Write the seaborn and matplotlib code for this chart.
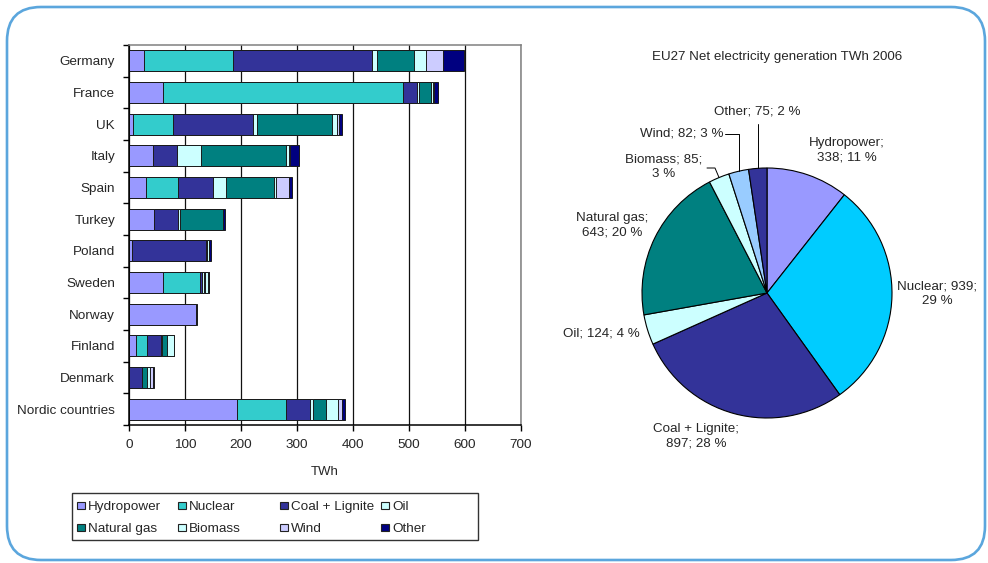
import numpy as np
import matplotlib
matplotlib.use("Agg")
import matplotlib.pyplot as plt
from matplotlib.patches import FancyBboxPatch, Rectangle
import seaborn as sns

# ---- data -------------------------------------------------------------
countries = ["Germany", "France", "UK", "Italy", "Spain", "Turkey", "Poland",
             "Sweden", "Norway", "Finland", "Denmark", "Nordic countries"]

fuels = ["Hydropower", "Nuclear", "Coal + Lignite", "Oil",
         "Natural gas", "Biomass", "Wind", "Other"]

hydropower = [26, 61, 8, 42, 30, 45, 5, 61, 120, 12, 0, 192]
nuclear    = [159, 429, 70, 0, 58, 0, 0, 66, 0, 21, 0, 88]
coal       = [249, 24, 144, 44, 62, 43, 133, 3, 0, 24, 23, 44]
oil        = [9, 4, 6, 43, 23, 3, 1, 4, 0, 2, 1, 5]
gas        = [66, 22, 135, 151, 86, 76, 1, 1, 0, 9, 9, 22]
biomass    = [21, 3, 8, 5, 4, 0, 2, 6, 0, 12, 4, 23]
wind       = [30, 2, 4, 3, 22, 0, 0, 1, 0, 0, 6, 7]
other      = [39, 6, 6, 15, 6, 4, 5, 0, 2, 0, 1, 5]

eu27_values = [338, 939, 897, 124, 643, 85, 82, 75]
eu27_pct = [11, 29, 28, 4, 20, 3, 3, 2]

x_ticks = [0, 100, 200, 300, 400, 500, 600, 700]

bar_colors = ["#9999FF", "#33CCCC", "#333399", "#CCFFFF",
              "#008080", "#CCFFFF", "#CCCCFF", "#000080"]
pie_colors = ["#9999FF", "#00CCFF", "#333399", "#CCFFFF",
              "#008080", "#CCFFFF", "#99CCFF", "#333399"]

# ---- style ------------------------------------------------------------
sns.set_theme(style="white")
plt.rcParams["font.family"] = ["Liberation Sans", "DejaVu Sans"]
plt.rcParams["font.size"] = 9.5

W, H = 988, 563
fig = plt.figure(figsize=(W / 100, H / 100), dpi=100)
fig.patch.set_facecolor("white")

# full-figure overlay in pixel units (frame, title, legend)
ov = fig.add_axes([0, 0, 1, 1], zorder=-1)
ov.set_xlim(0, W)
ov.set_ylim(H, 0)
ov.axis("off")
ov.patch.set_alpha(0)
ov.add_patch(FancyBboxPatch((7, 7), 978, 553,
                            boxstyle="round,pad=0,rounding_size=34",
                            facecolor="white", edgecolor="#5BA6DD", lw=1.9))

# ---- stacked horizontal bars -------------------------------------------
ax = fig.add_axes([129 / W, 1 - 425 / H, 392 / W, 380 / H])
layers = [hydropower, nuclear, coal, oil, gas, biomass, wind, other]
cum = np.cumsum(np.array(layers, dtype=float), axis=0)

# draw cumulative totals from the outermost layer inwards
for i in range(len(layers) - 1, -1, -1):
    sns.barplot(x=cum[i], y=countries, orient="h", ax=ax, color=bar_colors[i],
                saturation=1, width=0.66, errorbar=None,
                edgecolor="#1a1a1a", linewidth=0.7)

ax.set_xlim(0, 700)
ax.set_ylim(len(countries) - 0.5, -0.5)
ax.set_xticks(x_ticks)
ax.set_xticklabels([str(t) for t in x_ticks])
ax.set_xlabel("TWh", fontsize=9.5, labelpad=11)
ax.set_ylabel("")
ax.xaxis.grid(True, color="#111111", lw=0.9)
ax.set_axisbelow(True)
ax.set_yticks(np.arange(-0.5, len(countries), 1.0), minor=True)
ax.tick_params(axis="y", which="major", length=0, pad=10, labelsize=9.7)
ax.tick_params(axis="y", which="minor", length=4, width=1, color="black",
               direction="out", left=True)
ax.tick_params(axis="x", which="major", length=4, width=1, color="black",
               direction="out", bottom=True, pad=6, labelsize=9.7)
for side in ("left", "bottom"):
    ax.spines[side].set_color("black")
    ax.spines[side].set_linewidth(1.1)
for side in ("top", "right"):
    ax.spines[side].set_color("#808080")
    ax.spines[side].set_linewidth(1.1)
    ax.spines[side].set_visible(True)

# ---- legend (evenly spaced grid, two rows of four) ---------------------
ov.add_patch(Rectangle((72, 493), 406, 47, facecolor="white",
                       edgecolor="#333333", lw=1.0))
col_x = [77, 178, 280, 381]
row_y = [505, 527]
for k in range(len(fuels)):
    cx = col_x[k % 4]
    cy = row_y[k // 4]
    ov.add_patch(Rectangle((cx, cy - 3.5), 7.5, 7.5, facecolor=bar_colors[k],
                           edgecolor="#222222", lw=0.8))
    ov.text(cx + 11, cy + 0.5, fuels[k], fontsize=9.7,
            va="center_baseline", ha="left")

# ---- pie ----------------------------------------------------------------
pc = (767, 293)
r = 125
pax = fig.add_axes([(pc[0] - r) / W, (H - pc[1] - r) / H, 2 * r / W, 2 * r / H])
wedges, _ = pax.pie(eu27_values, colors=pie_colors, startangle=90,
                    counterclock=False, radius=1,
                    wedgeprops=dict(edgecolor="black", linewidth=0.8))
pax.set_xlim(-1, 1)
pax.set_ylim(-1, 1)
pax.patch.set_alpha(0)

ov.text(777, 57, "EU27 Net electricity generation TWh 2006",
        fontsize=9.6, ha="center", va="center")


def lab(i, split):
    name, v, p = fuels[i], eu27_values[i], eu27_pct[i]
    if split == 1:
        return f"{name};\n{v}; {p} %"
    if split == 2:
        return f"{name}; {v};\n{p} %"
    return f"{name}; {v}; {p} %"


def mid_point(i):
    w = wedges[i]
    a = np.deg2rad((w.theta1 + w.theta2) / 2)
    return np.cos(a), np.sin(a)


txt = dict(fontsize=9.6, linespacing=1.3, va="center")
pax.text(0.64, 1.144, lab(0, 1), ha="center", **txt)
pax.text(1.36, -0.008, lab(1, 2), ha="center", **txt)
pax.text(-0.565, -1.147, lab(2, 1), ha="center", **txt)
pax.text(-1.323, -0.323, lab(3, 0), ha="center", **txt)
pax.text(-1.24, 0.54, lab(4, 1), ha="center", **txt)
pax.text(-0.824, 1.008, lab(5, 2), ha="center", **txt)
pax.text(-0.345, 1.272, lab(6, 0), ha="right", **txt)
pax.text(-0.08, 1.448, lab(7, 0), ha="center", **txt)

# leader lines for the thin slices
bx, by = mid_point(5)
pax.plot([-0.48, -0.416, bx], [1.0, 1.0, by], color="black", lw=0.7,
         clip_on=False)
wx, wy = mid_point(6)
pax.plot([-0.335, wx, wx], [1.272, 1.272, wy], color="black", lw=0.7,
         clip_on=False)
ox, oy = mid_point(7)
pax.plot([ox, ox], [1.355, oy], color="black", lw=0.7, clip_on=False)

fig.savefig("out.png", dpi=100, facecolor="white")
